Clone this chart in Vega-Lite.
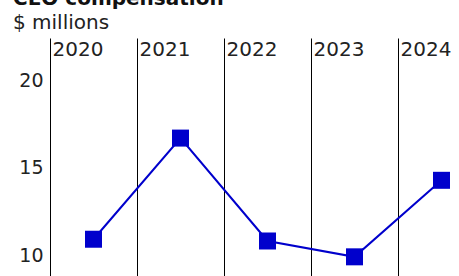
{
  "$schema": "https://vega.github.io/schema/vega-lite/v6.json",
  "autosize": {"type": "none"},
  "padding": {"left": 50, "top": 38, "right": 0, "bottom": 0},
  "width": 409,
  "height": 238,
  "background": "white",
  "title": {
    "text": "CEO compensation",
    "subtitle": "$ millions",
    "anchor": "start",
    "frame": "group",
    "dx": -37,
    "dy": 3,
    "font": "DejaVu Sans",
    "fontSize": 20,
    "fontWeight": "bold",
    "color": "#111",
    "subtitleFont": "DejaVu Sans",
    "subtitleFontSize": 20,
    "subtitleColor": "#222",
    "subtitlePadding": 4,
    "offset": 8
  },
  "config": {
    "view": {"stroke": null},
    "font": "DejaVu Sans"
  },
  "data": {
    "values": [
      {"year": "2020", "value": 10.95},
      {"year": "2021", "value": 16.7},
      {"year": "2022", "value": 10.85},
      {"year": "2023", "value": 9.95},
      {"year": "2024", "value": 14.3}
    ]
  },
  "encoding": {
    "x": {
      "field": "year",
      "type": "ordinal",
      "scale": {"type": "band", "range": [0, 435], "paddingInner": 0, "paddingOuter": 0},
      "axis": {
        "orient": "top",
        "title": null,
        "domain": false,
        "ticks": false,
        "tickSize": 0,
        "bandPosition": 0,
        "grid": true,
        "gridColor": "#000",
        "gridWidth": 1,
        "gridOpacity": 1,
        "labelAlign": "left",
        "labelBaseline": "alphabetic",
        "labelOffset": -41,
        "labelPadding": -17,
        "labelFont": "DejaVu Sans",
        "labelFontSize": 20,
        "labelColor": "#222",
        "labelAngle": 0
      }
    },
    "y": {
      "field": "value",
      "type": "quantitative",
      "scale": {"domain": [8.86, 22.39], "nice": false, "zero": false},
      "axis": {
        "title": null,
        "domain": false,
        "ticks": false,
        "grid": false,
        "values": [10, 15, 20],
        "labelPadding": 7,
        "labelFont": "DejaVu Sans",
        "labelFontSize": 19,
        "labelColor": "#222"
      }
    }
  },
  "layer": [
    {"mark": {"type": "line", "color": "#0000cc", "strokeWidth": 2, "clip": false}},
    {"mark": {"type": "point", "shape": "square", "filled": true, "size": 289, "color": "#0000cc", "opacity": 1, "clip": false}}
  ]
}
